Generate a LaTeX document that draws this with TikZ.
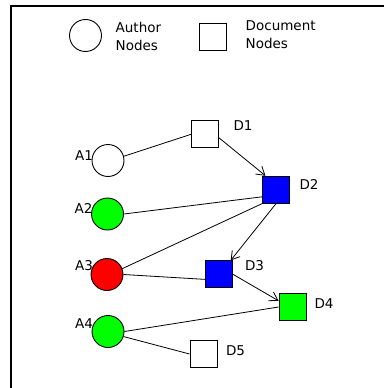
\documentclass[tikz,border=0pt]{standalone}
\usepackage{fontspec}
\setmainfont{DejaVu Sans}
\usetikzlibrary{arrows.meta}
\definecolor{agreen}{RGB}{0,255,0}
\definecolor{ablue}{RGB}{0,0,255}
\definecolor{ared}{RGB}{255,0,0}
\begin{document}
\begin{tikzpicture}[x=1pt,y=-1pt,
  author/.style={circle,draw,line width=0.9pt,minimum size=32pt,inner sep=0pt},
  docnode/.style={rectangle,draw,line width=0.9pt,minimum size=27pt,inner sep=0pt},
  lbl/.style={inner sep=0pt,font=\fontsize{13.5}{16}\selectfont},
  edge/.style={line width=0.8pt},
  arr/.style={line width=0.8pt,-{Straight Barb[length=8pt,width=10pt]}}]
\useasboundingbox (0,0) rectangle (383,388);
\draw[line width=1.4pt] (11,400) -- (11,6) -- (400,6);
% legend
\node[author] (la) at (85.5,35.5) {};
\node[lbl,anchor=base west] (lat1) at (115.5,32.7) {Author};
\node[lbl,anchor=base west] (lat2) at (115.5,50) {Nodes};
\node[docnode] (ld) at (213,36.7) {};
\node[lbl,anchor=base west] (ldt1) at (245.5,30.8) {Document};
\node[lbl,anchor=base west] (ldt2) at (245.5,48.5) {Nodes};
% authors
\node[author] (A1) at (108,160.5) {};
\node[author,fill=agreen] (A2) at (107.5,214) {};
\node[author,fill=ared] (A3) at (107,274.5) {};
\node[author,fill=agreen] (A4) at (108,331.5) {};
\node[lbl] (A1l) at (84,155.5) {A1};
\node[lbl] (A2l) at (83.5,208.5) {A2};
\node[lbl] (A3l) at (84,265.5) {A3};
\node[lbl] (A4l) at (84,323.5) {A4};
% documents
\node[docnode] (D1) at (205,134.3) {};
\node[docnode,fill=ablue] (D2) at (276,189.7) {};
\node[docnode,fill=ablue] (D3) at (219,274.3) {};
\node[docnode,fill=agreen] (D4) at (292.5,307) {};
\node[docnode] (D5) at (203.5,354) {};
\node[lbl] (D1l) at (243,125.5) {D1};
\node[lbl] (D2l) at (309,184.5) {D2};
\node[lbl] (D3l) at (254.5,266) {D3};
\node[lbl] (D4l) at (324,304) {D4};
\node[lbl] (D5l) at (235.5,351) {D5};
% edges
\draw[edge] (A1.15) -- (D1.west);
\draw[arr] (D1.-14) -- (D2.127);
\draw[edge] (A2.east) -- (D2.207);
\draw[edge] (A3.21) -- (D2.south west);
\draw[arr] (D2.south) -- (D3.50);
\draw[edge] (A3.east) -- (D3.200);
\draw[arr] (D3.east) -- (D4.156);
\draw[edge] (A4.east) -- (D4.west);
\draw[edge] (A4.-18) -- (D5.west);
\end{tikzpicture}
\end{document}
